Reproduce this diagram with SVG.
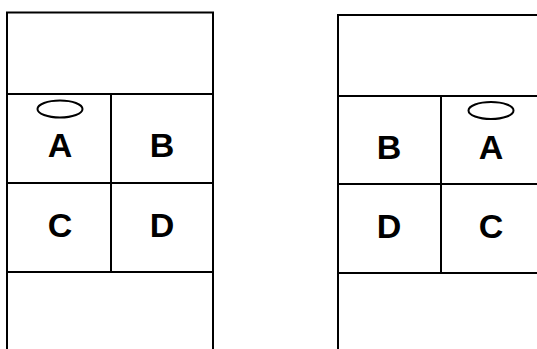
<svg xmlns="http://www.w3.org/2000/svg" width="537" height="349" viewBox="0 0 537 349">
<style>
.ln{stroke:#000;stroke-width:2;fill:none}
.lbl{font-family:"Liberation Sans",Arial,sans-serif;font-weight:bold;font-size:34px;text-anchor:middle;fill:#000}
.ov{fill:#fff;stroke:#000;stroke-width:2}
</style>
<rect width="537" height="349" fill="#fff"/>
<g id="left-panel">
<path class="ln" d="M7,349 V12.5 H213 V349"/>
<path class="ln" d="M7,94 H213 M7,183 H213 M7,272 H213 M111,94 V272"/>
</g>
<g id="left-A"><ellipse class="ov" cx="60" cy="109" rx="22.5" ry="8.5"/><text class="lbl" x="60" y="157">A</text></g>
<g id="left-B"><text class="lbl" x="162" y="157">B</text></g>
<g id="left-C"><text class="lbl" x="60" y="237">C</text></g>
<g id="left-D"><text class="lbl" x="162" y="237">D</text></g>
<g id="right-panel">
<path class="ln" d="M338,349 V15 H537"/>
<path class="ln" d="M338,96 H537 M338,184 H537 M338,273 H537 M441,96 V273"/>
</g>
<g id="right-B"><text class="lbl" x="389" y="159">B</text></g>
<g id="right-A"><ellipse class="ov" cx="491" cy="110.5" rx="22.5" ry="8.5"/><text class="lbl" x="491" y="159">A</text></g>
<g id="right-D"><text class="lbl" x="389" y="238">D</text></g>
<g id="right-C"><text class="lbl" x="491" y="238">C</text></g>
<g id="connectors"></g>
</svg>
